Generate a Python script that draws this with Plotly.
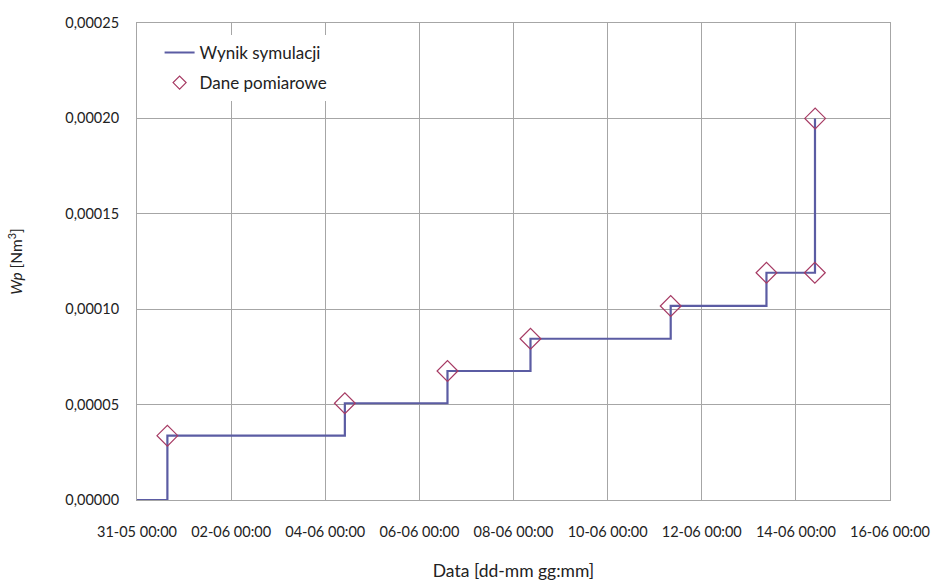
import plotly.graph_objects as go

# Simulation result (step series)
sim_time = ["2011-05-31 00:00", "2011-05-31 15:30", "2011-06-04 10:00", "2011-06-06 14:20",
            "2011-06-08 08:40", "2011-06-11 08:10", "2011-06-13 09:00", "2011-06-14 09:45"]
sim_values = [0.0, 0.0000337, 0.0000507, 0.0000676, 0.0000845, 0.0001017, 0.0001191, 0.0002000]

# Measured data
meas_time = ["2011-05-31 15:30", "2011-06-04 10:00", "2011-06-06 14:20", "2011-06-08 08:40",
             "2011-06-11 08:10", "2011-06-13 09:00", "2011-06-14 09:40", "2011-06-14 09:50"]
meas_values = [0.0000337, 0.0000507, 0.0000676, 0.0000845, 0.0001017, 0.0001191, 0.0001191, 0.0002000]

x_ticks = ["2011-05-31", "2011-06-02", "2011-06-04", "2011-06-06", "2011-06-08",
           "2011-06-10", "2011-06-12", "2011-06-14", "2011-06-16"]

LINE_COLOR = "#5b5ca3"
MARKER_COLOR = "#a63a63"

fig = go.Figure()
fig.add_trace(go.Scatter(x=sim_time, y=sim_values, mode="lines", line_shape="hv",
                         name="Wynik symulacji", showlegend=False,
                         line=dict(color=LINE_COLOR, width=2.2)))
fig.add_trace(go.Scatter(x=meas_time, y=meas_values, mode="markers",
                         name="Dane pomiarowe", showlegend=False,
                         marker=dict(symbol="diamond-open", size=16, color=MARKER_COLOR,
                                     line=dict(width=1.2, color=MARKER_COLOR))))
# legend entries (smaller symbols as in the reference)
fig.add_trace(go.Scatter(x=[None], y=[None], mode="lines", name="Wynik symulacji",
                         legendgroup="a", line=dict(color=LINE_COLOR, width=2)))
fig.add_trace(go.Scatter(x=[None], y=[None], mode="markers", name="Dane pomiarowe",
                         legendgroup="b",
                         marker=dict(symbol="diamond-open", size=10, color=MARKER_COLOR,
                                     line=dict(width=1.2, color=MARKER_COLOR))))

fig.update_layout(
    width=933, height=581,
    margin=dict(l=137, r=43, t=23, b=81, autoexpand=False),
    paper_bgcolor="white", plot_bgcolor="white",
    separators=", ",
    font=dict(family="Lato, Open Sans, sans-serif", size=14.5, color="#222"),
    showlegend=True,
    legend=dict(x=0.03, y=0.975, xanchor="left", yanchor="top",
                bgcolor="white", borderwidth=0, font=dict(size=17),
                itemwidth=30, traceorder="grouped", tracegroupgap=5),
    xaxis=dict(type="date", range=["2011-05-31", "2011-06-16"],
               tickmode="array", tickvals=x_ticks, tickformat="%d-%m %H:%M",
               showgrid=True, gridcolor="#a6a6a6", gridwidth=1,
               showline=True, linecolor="#a6a6a6", linewidth=1, mirror=True,
               ticks="", ticklabelstandoff=19,
               title=dict(text="Data [dd-mm gg:mm]", standoff=27, font=dict(size=17.5)),
               zeroline=False),
    yaxis=dict(range=[0, 0.00025], dtick=0.00005, tick0=0, tickformat=".5f",
               showgrid=True, gridcolor="#a6a6a6", gridwidth=1,
               showline=True, linecolor="#a6a6a6", linewidth=1, mirror=True,
               ticks="", ticklabelstandoff=14,
               title=dict(text="<i>Wp</i> [Nm<sup>3</sup>]", standoff=38, font=dict(size=15.5)),
               zeroline=False),
)

fig.write_html("out.html")
